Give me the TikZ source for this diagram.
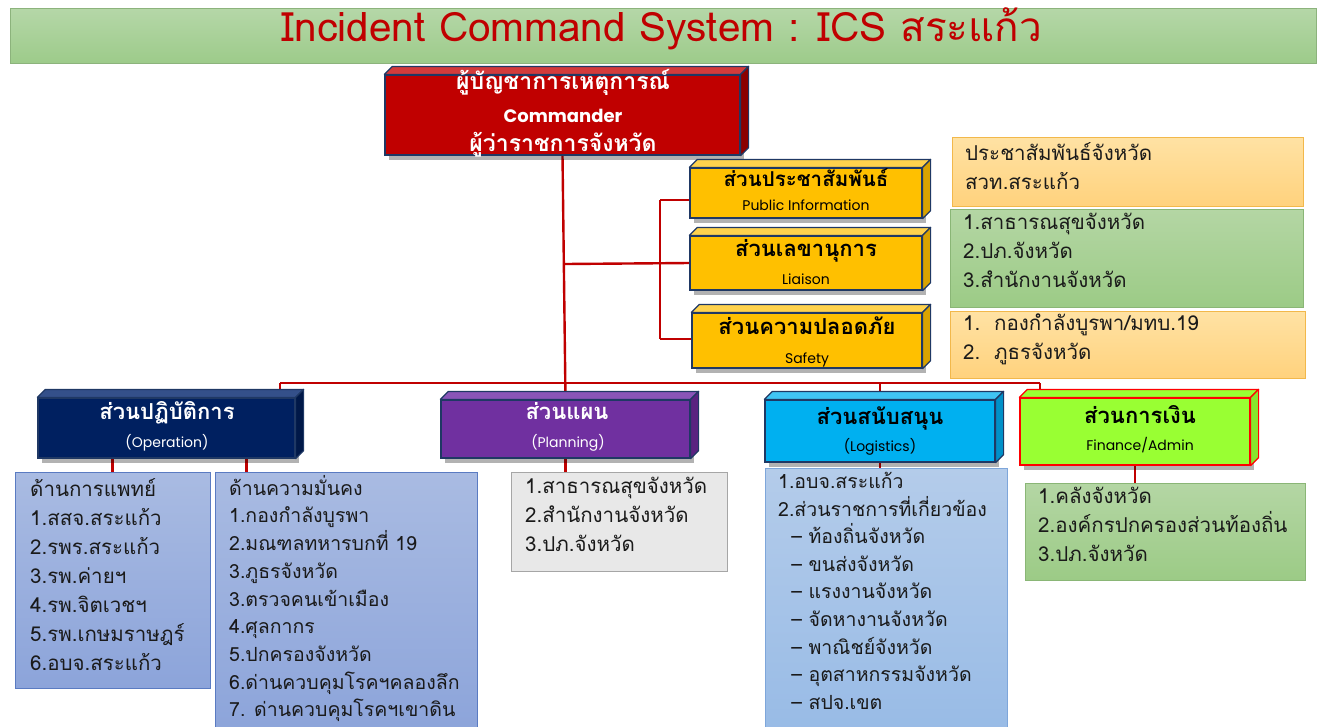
\documentclass[tikz,border=0pt]{standalone}
\usepackage{fontspec}
\setmainfont[Script=Thai]{Loma}
\newfontfamily\latinf{Poppins}
\usetikzlibrary{backgrounds,shadows}
\definecolor{linkred}{HTML}{C00000}
\definecolor{navyedge}{HTML}{1F3864}
\definecolor{cmdfront}{HTML}{C00000}
\definecolor{cmdtop}{HTML}{D33B3B}
\definecolor{cmdside}{HTML}{8B0000}
\definecolor{yelfront}{HTML}{FFC000}
\definecolor{yeltop}{HTML}{FFD24D}
\definecolor{yelside}{HTML}{D9A300}
\definecolor{opsfront}{HTML}{002060}
\definecolor{opstop}{HTML}{34508A}
\definecolor{opsside}{HTML}{001848}
\definecolor{planfront}{HTML}{7030A0}
\definecolor{plantop}{HTML}{8A55B8}
\definecolor{planside}{HTML}{5A2280}
\definecolor{logfront}{HTML}{00B0F0}
\definecolor{logtop}{HTML}{40C4F4}
\definecolor{logside}{HTML}{0090C8}
\definecolor{finfront}{HTML}{99FF33}
\definecolor{finside}{HTML}{88E62D}
\definecolor{finedge}{HTML}{FF0000}
\definecolor{bluetop}{HTML}{A9BBE2}
\definecolor{bluebot}{HTML}{8CA4DA}
\definecolor{blueedge}{HTML}{5A7BC2}
\definecolor{lbluetop}{HTML}{B4CCEA}
\definecolor{lbluebot}{HTML}{98BBE6}
\definecolor{lblueedge}{HTML}{7EA6DA}
\definecolor{greytop}{HTML}{E8E8E8}
\definecolor{greyedge}{HTML}{A6A6A6}
\definecolor{greentop}{HTML}{B4D6A4}
\definecolor{greenbot}{HTML}{9CCB86}
\definecolor{greenedge}{HTML}{8AB676}
\definecolor{orantop}{HTML}{FFE2A4}
\definecolor{oranbot}{HTML}{FFD27D}
\definecolor{oranedge}{HTML}{F2B84B}
\definecolor{titletop}{HTML}{B5D7A8}
\definecolor{titlebot}{HTML}{9DCB8A}
\definecolor{titleedge}{HTML}{8CB37C}
\definecolor{txtdark}{HTML}{1A1A1A}

\newcommand\cubefaces[5]{%
  \filldraw[fill=#2,draw=#4,line width=1.2pt,line join=round]
    (#1.north west) -- ([shift={(#5,-#5)}]#1.north west) -- ([shift={(#5,-#5)}]#1.north east) -- (#1.north east) -- cycle;
  \filldraw[fill=#3,draw=#4,line width=1.2pt,line join=round]
    (#1.north east) -- ([shift={(#5,-#5)}]#1.north east) -- ([shift={(#5,-#5)}]#1.south east) -- (#1.south east) -- cycle;
}

\tikzset{
  conn/.style={draw=linkred, line width=2.4pt},
  cube/.style={draw=navyedge, line width=1.2pt, inner sep=0pt,
    drop shadow={shadow xshift=4pt, shadow yshift=-5pt, opacity=.3, fill=black}},
  lbl/.style={inner sep=0pt, anchor=base},
  headlbl/.style={lbl, font=\bfseries\fontsize{22}{24}\selectfont},
  sublbl/.style={lbl, font=\latinf\fontsize{14}{16}\selectfont},
  listbox/.style={line width=1pt, inner sep=0pt},
  bluelist/.style={listbox, draw=blueedge, top color=bluetop, bottom color=bluebot},
  lbluelist/.style={listbox, draw=lblueedge, top color=lbluetop, bottom color=lbluebot},
  greylist/.style={listbox, draw=greyedge, fill=greytop},
  greenlist/.style={listbox, draw=greenedge, top color=greentop, bottom color=greenbot},
  oranlist/.style={listbox, draw=oranedge, top color=orantop, bottom color=oranbot},
  listtxt/.style={anchor=north west, align=left, inner sep=0pt, text=txtdark,
    font=\fontsize{20.5}{29}\selectfont},
}

\begin{document}
\begin{tikzpicture}[x=1pt,y=-1pt]
\useasboundingbox (0,0) rectangle (1321,726);

% title
\node[draw=titleedge, line width=1pt, top color=titletop, bottom color=titlebot,
  minimum width=1306, minimum height=55, inner sep=0pt] (title) at (663,35.5) {};
\node[lbl, text=linkred, font=\fontsize{40.5}{42}\selectfont] (titletext) at (662,41)
  {Incident Command System : ICS สระแก้ว};

% commander
\node[cube, fill=cmdfront, minimum width=355, minimum height=80] (cmd) at (562.5,115) {};
\cubefaces{cmd}{cmdtop}{cmdside}{navyedge}{8}
\node[headlbl, text=white, font=\bfseries\fontsize{23}{24}\selectfont] (cmd1) at (563,89) {ผู้บัญชาการเหตุการณ์};
\node[lbl, text=white, font=\latinf\bfseries\fontsize{18}{20}\selectfont] (cmd2) at (563,122) {Commander};
\node[headlbl, text=white, font=\bfseries\fontsize{23}{24}\selectfont] (cmd3) at (563,151) {ผู้ว่าราชการจังหวัด};

% staff
\node[cube, fill=yelfront, minimum width=232, minimum height=50] (pi) at (806,193) {};
\cubefaces{pi}{yeltop}{yelside}{navyedge}{8}
\node[headlbl, font=\bfseries\fontsize{20.5}{22}\selectfont] (pih) at (806,186) {ส่วนประชาสัมพันธ์};
\node[sublbl] (pis) at (806,210.5) {Public Information};
\node[cube, fill=yelfront, minimum width=232, minimum height=54] (lia) at (806,263) {};
\cubefaces{lia}{yeltop}{yelside}{navyedge}{8}
\node[headlbl] (liah) at (806,256) {ส่วนเลขานุการ};
\node[sublbl] (lias) at (806,284) {Liaison};
\node[cube, fill=yelfront, minimum width=230, minimum height=55] (saf) at (807,340.5) {};
\cubefaces{saf}{yeltop}{yelside}{navyedge}{8}
\node[headlbl] (safh) at (807,334.5) {ส่วนความปลอดภัย};
\node[sublbl] (safs) at (807,363) {Safety};

% staff info boxes
\node[oranlist, minimum width=351, minimum height=69] (piinfo) at (1127.5,171.5) {};
\node[listtxt] (piinfot) at (965,142) {ประชาสัมพันธ์จังหวัด\\สวท.สระแก้ว};
\node[greenlist, minimum width=353, minimum height=98] (liainfo) at (1126.5,258) {};
\node[listtxt] (liainfot) at (963,213) {1.สาธารณสุขจังหวัด\\2.ปภ.จังหวัด\\3.สำนักงานจังหวัด};
\node[oranlist, minimum width=355, minimum height=67] (safinfo) at (1127.5,344.5) {};
\node[listtxt] (safinfot) at (963,314) {1.\ \ กองกำลังบูรพา/มทบ.19\\2.\ \ ภูธรจังหวัด};

% sections
\node[cube, fill=opsfront, minimum width=257, minimum height=60] (ops) at (166.5,428) {};
\cubefaces{ops}{opstop}{opsside}{navyedge}{8}
\node[headlbl, text=white] (opsh) at (167,419) {ส่วนปฏิบัติการ};
\node[sublbl, text=white] (opss) at (167,447.5) {(Operation)};
\node[cube, fill=planfront, minimum width=249, minimum height=58] (plan) at (565.5,429) {};
\cubefaces{plan}{plantop}{planside}{navyedge}{8}
\node[headlbl, text=white] (planh) at (567,419) {ส่วนแผน};
\node[sublbl, text=white] (plans) at (568,447.5) {(Planning)};
\node[cube, fill=logfront, minimum width=230, minimum height=62] (log) at (880,431) {};
\cubefaces{log}{logtop}{logside}{navyedge}{8}
\node[headlbl] (logh) at (880,424) {ส่วนสนับสนุน};
\node[sublbl] (logs) at (880,451.5) {(Logistics)};
\node[cube, draw=finedge, fill=finfront, minimum width=230, minimum height=67] (fin) at (1135,431.5) {};
\cubefaces{fin}{finfront}{finside}{finedge}{8}
\node[headlbl] (finh) at (1140,423) {ส่วนการเงิน};
\node[sublbl] (fins) at (1140,450.5) {Finance/Admin};

% lists
\node[bluelist, minimum width=195, minimum height=216] (med) at (112.5,580) {};
\node[listtxt] (medt) at (30,478) {ด้านการแพทย์\\1.สสจ.สระแก้ว\\2.รพร.สระแก้ว\\3.รพ.ค่ายฯ\\4.รพ.จิตเวชฯ\\5.รพ.เกษมราษฎร์\\6.อบจ.สระแก้ว};
\node[bluelist, minimum width=262, minimum height=262] (sec) at (346,603) {};
\node[listtxt, font=\fontsize{19.5}{27.7}\selectfont] (sect) at (229,475) {ด้านความมั่นคง\\1.กองกำลังบูรพา\\2.มณฑลทหารบกที่ 19\\3.ภูธรจังหวัด\\3.ตรวจคนเข้าเมือง\\4.ศุลกากร\\5.ปกครองจังหวัด\\6.ด่านควบคุมโรคฯคลองลึก\\7. ด่านควบคุมโรคฯเขาดิน};
\node[greylist, minimum width=216, minimum height=99] (planl) at (619,521.5) {};
\node[listtxt] (planlt) at (525,477) {1.สาธารณสุขจังหวัด\\2.สำนักงานจังหวัด\\3.ปภ.จังหวัด};
\node[lbluelist, minimum width=242, minimum height=264] (logl) at (886,600) {};
\node[listtxt, font=\fontsize{19.5}{27.6}\selectfont] (loglt) at (778,472) {1.อบจ.สระแก้ว\\2.ส่วนราชการที่เกี่ยวข้อง\\\ \ – ท้องถิ่นจังหวัด\\\ \ – ขนส่งจังหวัด\\\ \ – แรงงานจังหวัด\\\ \ – จัดหางานจังหวัด\\\ \ – พาณิชย์จังหวัด\\\ \ – อุตสาหกรรมจังหวัด\\\ \ – สปจ.เขต};
\node[greenlist, minimum width=280, minimum height=97] (finl) at (1165,531.5) {};
\node[listtxt] (finlt) at (1038,487) {1.คลังจังหวัด\\2.องค์กรปกครองส่วนท้องถิ่น\\3.ปภ.จังหวัด};

% connectors
\coordinate (sj) at (565,264);
\coordinate (st) at (660,200);
\coordinate (sb) at (660,339);
\coordinate (barL) at (280,383);
\coordinate (barR) at (1040,383);
\begin{scope}[on background layer]
  \draw[conn] (cmd.south) -- (plan.north);
  \draw[conn] (sj) -- (lia.west);
  \draw[conn] (st) -- (sb);
  \draw[conn] (st) -- (st -| pi.west);
  \draw[conn] (sb) -- (sb -| saf.west);
  \draw[conn] (barL) -- (barR);
  \draw[conn] (barL) -- (barL |- ops.north);
  \draw[conn] (log.north |- barL) -- (log.north);
  \draw[conn] (barR) -- (barR |- fin.north);
  \draw[conn] (med.north) -- (med.north |- ops.south);
  \draw[conn] ([xshift=80]ops.south) -- ([xshift=80]ops.south |- sec.north);
  \draw[conn] (plan.south) -- (plan.south |- planl.north);
  \draw[conn] (log.south) -- (log.south |- logl.north);
  \draw[conn] (fin.south) -- (fin.south |- finl.north);
\end{scope}
\end{tikzpicture}
\end{document}
